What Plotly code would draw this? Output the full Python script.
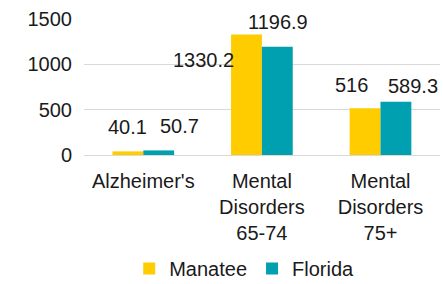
import plotly.graph_objects as go

categories = ["Alzheimer's", "Mental<br>Disorders<br>65-74", "Mental<br>Disorders<br>75+"]
series_names = ["Manatee", "Florida"]
manatee = [40.1, 1330.2, 516]
florida = [50.7, 1196.9, 589.3]
label_text_manatee = ["40.1", "1330.2", "516"]
label_text_florida = ["50.7", "1196.9", "589.3"]
y_ticks = [0, 500, 1000, 1500]

colors = ["#FFCC00", "#00A0B0"]
FONT = "Liberation Sans, Arial, sans-serif"
TXT = "#1a1a1a"

fig = go.Figure()
for name, vals, col in zip(series_names, [manatee, florida], colors):
    fig.add_trace(go.Bar(x=categories, y=vals, name=name, marker=dict(color=col, line=dict(width=0))))

# label offsets (px) relative to each bar's top-centre: (xshift, yshift)
bar_half = 15.5
offs_m = [(0, 11), (-43, -38), (-14, 10)]
offs_f = [(21, 11), (1, 12), (17, 3)]
anns = []
for cat, v, t, (dx, dy) in zip(categories, manatee, label_text_manatee, offs_m):
    anns.append(dict(x=cat, y=v, xref="x", yref="y", text=t, showarrow=False,
                     xshift=-bar_half + dx, yshift=dy, yanchor="bottom",
                     font=dict(family=FONT, size=20, color=TXT)))
for cat, v, t, (dx, dy) in zip(categories, florida, label_text_florida, offs_f):
    anns.append(dict(x=cat, y=v, xref="x", yref="y", text=t, showarrow=False,
                     xshift=bar_half + dx, yshift=dy, yanchor="bottom",
                     font=dict(family=FONT, size=20, color=TXT)))

fig.update_layout(
    width=443, height=284,
    margin=dict(l=84, r=3, t=19, b=129),
    paper_bgcolor="white", plot_bgcolor="white",
    barmode="group", bargap=0.48, bargroupgap=0,
    font=dict(family=FONT, size=20, color=TXT),
    annotations=anns,
    showlegend=True,
    legend=dict(orientation="h", x=0.45, xanchor="center", yref="container", y=0.055,
                yanchor="middle",
                font=dict(family=FONT, size=20, color=TXT), itemwidth=30,
                traceorder="normal"),
)
fig.update_yaxes(range=[0, 1502], tickvals=y_ticks, showgrid=True, gridcolor="#d9d9d9",
                 gridwidth=1, zeroline=False, showline=False, ticks="", automargin=False,
                 tickfont=dict(family=FONT, size=20, color=TXT), ticklabelstandoff=11)
fig.update_xaxes(showline=True, linecolor="#d9d9d9", linewidth=1, ticks="", automargin=False,
                 ticklabelstandoff=8,
                 tickfont=dict(family=FONT, size=20, color=TXT))

fig.write_html("out.html", config={"displayModeBar": False},
               post_script="document.body.style.margin='0';")
